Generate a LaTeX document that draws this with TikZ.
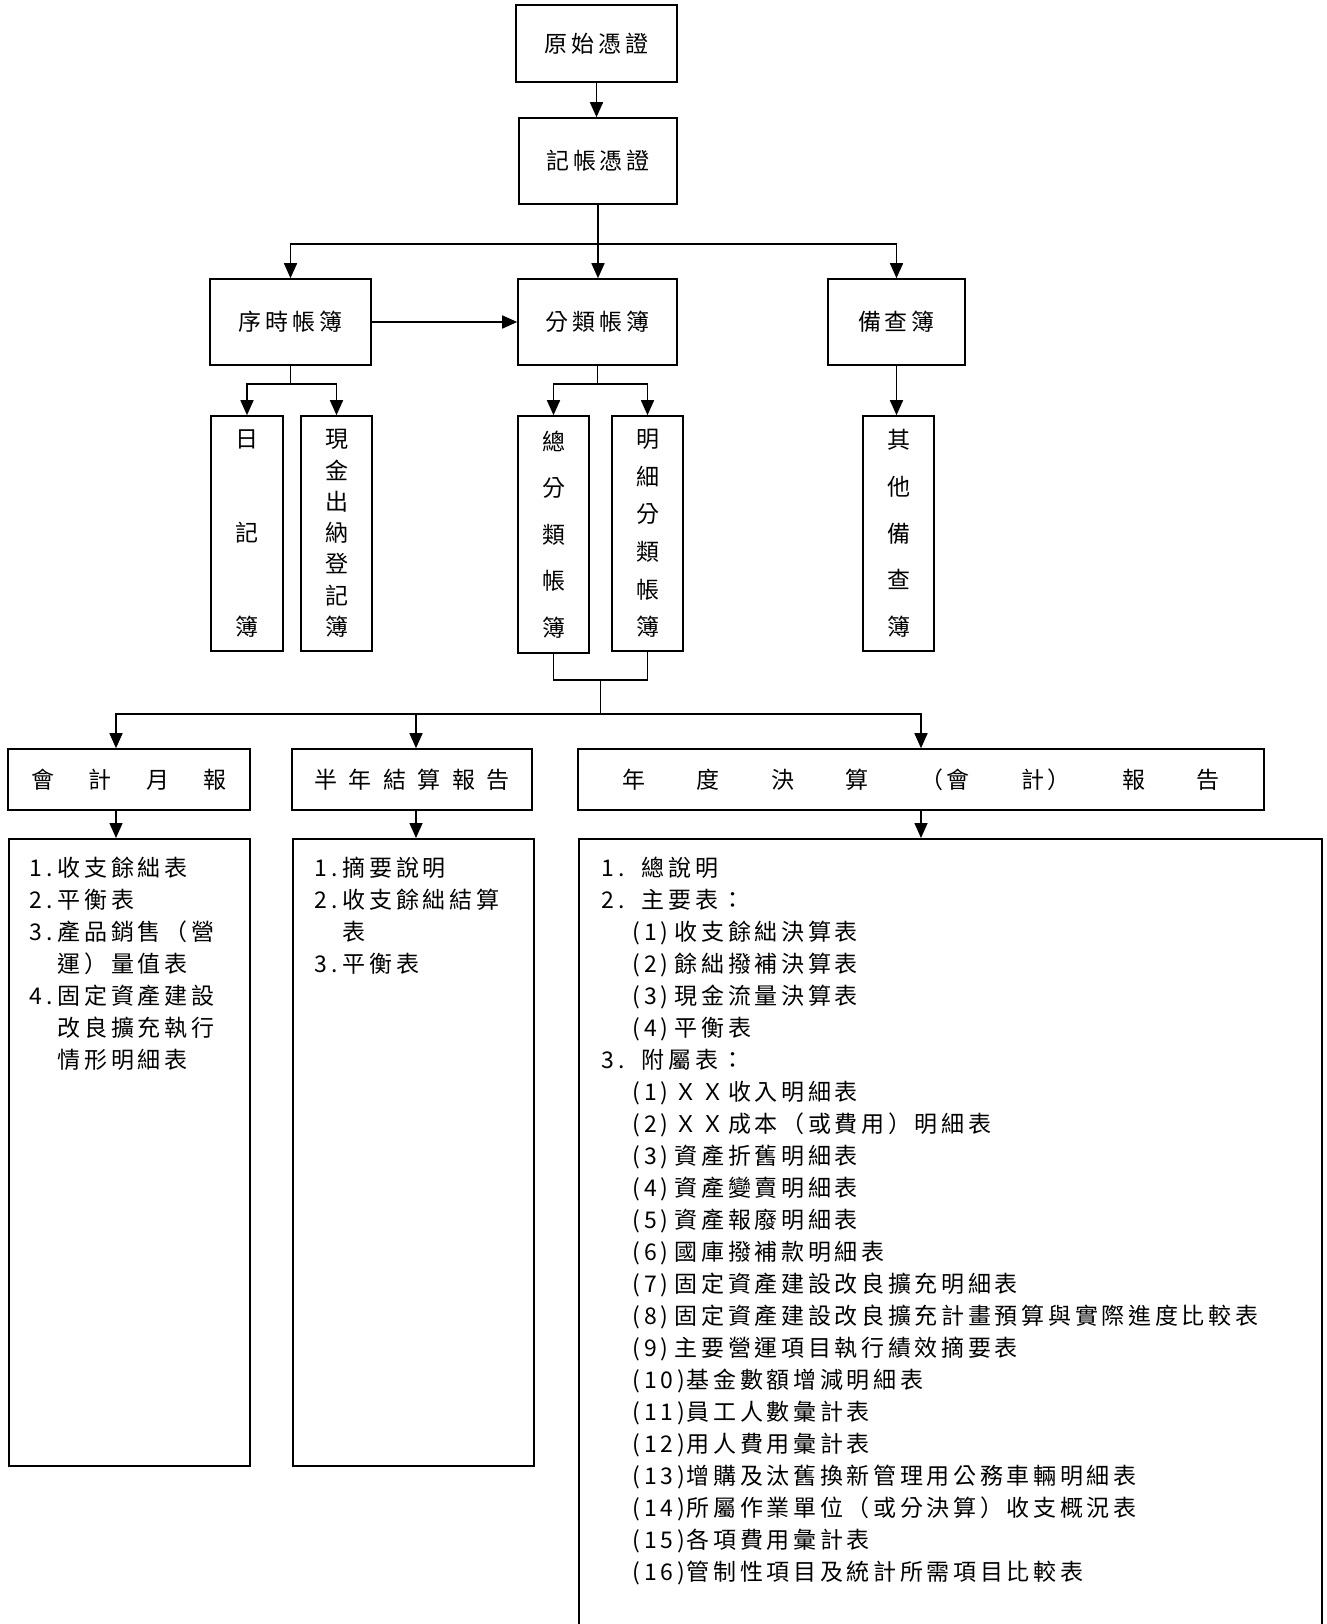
\documentclass[tikz,border=0pt]{standalone}
\usepackage{fontspec}
\setmainfont{Noto Sans CJK TC}[LetterSpace=16]
\usetikzlibrary{arrows.meta,positioning,calc}

\newcommand\vchars[1]{\parbox[c][206pt][s]{1.6em}{\fontsize{23pt}{23pt}\selectfont\centering #1}}
\newcommand\nx{\par\vfill}
\newcommand\lbl[2]{\makebox[#1][l]{#2}}

\begin{document}
\begin{tikzpicture}[
  x=1pt, y=-1pt,
  font=\fontsize{23pt}{32pt}\selectfont,
  >={Triangle[length=15pt,width=13pt]},
  line width=1.6pt,
  flowbox/.style={draw, line width=1.6pt, inner sep=0pt, align=center},
  vertbox/.style={flowbox, minimum width=71pt, minimum height=235pt},
  headbox/.style={flowbox, minimum height=61pt},
  listbox/.style={draw, line width=1.6pt, inner sep=0pt, anchor=north west},
  listtext/.style={inner sep=0pt, align=left, anchor=north west}
]
  \useasboundingbox (0,0) rectangle (1327,1624);

  % vouchers
  \node[flowbox, minimum width=161pt, minimum height=77pt] (yuan) at (596.5,43.5) {原始憑證};
  \node[flowbox, minimum width=158pt, minimum height=86pt] (jizhang) at (598,161) {記帳憑證};

  % books
  \node[flowbox, minimum width=161pt, minimum height=86pt] (xushi) at (290.5,322) {序時帳簿};
  \node[flowbox, minimum width=159pt, minimum height=86pt] (fenlei) at (597.5,322) {分類帳簿};
  \node[flowbox, minimum width=137pt, minimum height=86pt] (beicha) at (896.5,322) {備查簿};

  \node[vertbox, minimum width=72pt] (riji) at (247,533.5) {\vchars{日\nx 記\nx 簿}};
  \node[vertbox] (xianjin) at (336.5,533.5) {\vchars{現\nx 金\nx 出\nx 納\nx 登\nx 記\nx 簿}};
  \node[vertbox, minimum height=237pt] (zong) at (553.5,534.5) {\vchars{總\nx 分\nx 類\nx 帳\nx 簿}};
  \node[vertbox] (mingxi) at (647.5,533.5) {\vchars{明\nx 細\nx 分\nx 類\nx 帳\nx 簿}};
  \node[vertbox] (qita) at (898.5,533.5) {\vchars{其\nx 他\nx 備\nx 查\nx 簿}};

  % reports
  \node[headbox, minimum width=242pt] (yuebao) at (129,779.5) {\makebox[196pt][s]{會\hfill 計\hfill 月\hfill 報}};
  \node[headbox, minimum width=240pt] (bannian) at (412,779.5) {\makebox[196pt][s]{半\hfill 年\hfill 結\hfill 算\hfill 報\hfill 告}};
  \node[headbox, minimum width=686pt] (niandu) at (921,779.5) {\makebox[597pt][s]{年\hfill 度\hfill 決\hfill 算\hfill （會\hfill 計）\hfill 報\hfill 告}};

  \node[listbox, minimum width=241pt, minimum height=627pt] (yblist) at (8,838) {};
  \node[listbox, minimum width=241pt, minimum height=627pt] (bnlist) at (292,838) {};
  \node[listbox, minimum width=743pt, minimum height=810pt] (ndlist) at (578,838) {};

  \node[listtext] (yblisttxt) at ([xshift=21pt,yshift=-18pt]yblist.north west) {%
    \lbl{28pt}{1.}收支餘絀表\\
    \lbl{28pt}{2.}平衡表\\
    \lbl{28pt}{3.}產品銷售（營\\
    \hspace*{28pt}運）量值表\\
    \lbl{28pt}{4.}固定資產建設\\
    \hspace*{28pt}改良擴充執行\\
    \hspace*{28pt}情形明細表};

  \node[listtext] (bnlisttxt) at ([xshift=22pt,yshift=-18pt]bnlist.north west) {%
    \lbl{28pt}{1.}摘要說明\\
    \lbl{28pt}{2.}收支餘絀結算\\
    \hspace*{28pt}表\\
    \lbl{28pt}{3.}平衡表};

  \node[listtext] (ndlisttxt) at ([xshift=23pt,yshift=-18pt]ndlist.north west) {%
    \lbl{40pt}{1.}總說明\\
    \lbl{40pt}{2.}主要表：\\
    \hspace*{31pt}\lbl{42pt}{(1)}收支餘絀決算表\\
    \hspace*{31pt}\lbl{42pt}{(2)}餘絀撥補決算表\\
    \hspace*{31pt}\lbl{42pt}{(3)}現金流量決算表\\
    \hspace*{31pt}\lbl{42pt}{(4)}平衡表\\
    \lbl{40pt}{3.}附屬表：\\
    \hspace*{31pt}\lbl{42pt}{(1)}ＸＸ收入明細表\\
    \hspace*{31pt}\lbl{42pt}{(2)}ＸＸ成本（或費用）明細表\\
    \hspace*{31pt}\lbl{42pt}{(3)}資產折舊明細表\\
    \hspace*{31pt}\lbl{42pt}{(4)}資產變賣明細表\\
    \hspace*{31pt}\lbl{42pt}{(5)}資產報廢明細表\\
    \hspace*{31pt}\lbl{42pt}{(6)}國庫撥補款明細表\\
    \hspace*{31pt}\lbl{42pt}{(7)}固定資產建設改良擴充明細表\\
    \hspace*{31pt}\lbl{42pt}{(8)}固定資產建設改良擴充計畫預算與實際進度比較表\\
    \hspace*{31pt}\lbl{42pt}{(9)}主要營運項目執行績效摘要表\\
    \hspace*{31pt}\lbl{54pt}{(10)}基金數額增減明細表\\
    \hspace*{31pt}\lbl{54pt}{(11)}員工人數彙計表\\
    \hspace*{31pt}\lbl{54pt}{(12)}用人費用彙計表\\
    \hspace*{31pt}\lbl{54pt}{(13)}增購及汰舊換新管理用公務車輛明細表\\
    \hspace*{31pt}\lbl{54pt}{(14)}所屬作業單位（或分決算）收支概況表\\
    \hspace*{31pt}\lbl{54pt}{(15)}各項費用彙計表\\
    \hspace*{31pt}\lbl{54pt}{(16)}管制性項目及統計所需項目比較表};

  % connectors
  \draw[->] (yuan.south) -- (yuan.south |- jizhang.north);
  \coordinate (split1) at ($(jizhang.south)+(0,39)$);
  \draw (jizhang.south) -- (split1);
  \draw[->] (split1) -- (split1 |- fenlei.north);
  \draw[->] (split1) -| (xushi.north);
  \draw[->] (split1) -| (beicha.north);
  \draw[->] (xushi.east) -- (fenlei.west);

  \coordinate (split2) at ($(xushi.south)+(0,18)$);
  \draw (xushi.south) -- (split2);
  \draw[->] (split2) -| (riji.north);
  \draw[->] (split2) -| (xianjin.north);

  \coordinate (split3) at ($(fenlei.south)+(0,18)$);
  \draw (fenlei.south) -- (split3);
  \draw[->] (split3) -| (zong.north);
  \draw[->] (split3) -| (mingxi.north);

  \draw[->] (beicha.south) -- (beicha.south |- qita.north);

  \coordinate (merge) at ($(zong.south)!0.5!(mingxi.south)+(0,27)$);
  \draw (zong.south) |- (merge) -| (mingxi.south);
  \coordinate (split4) at ($(merge)+(0,34)$);
  \draw (merge) -- (split4);
  \draw[->] (split4) -| ([xshift=-13pt]yuebao.north);
  \draw[->] (split4) -| ([xshift=4pt]bannian.north);
  \draw[->] (split4) -| (niandu.north);

  \draw[->] ([xshift=-13pt]yuebao.south) -- ([xshift=-13pt]yuebao.south |- yblist.north);
  \draw[->] ([xshift=4pt]bannian.south) -- ([xshift=4pt]bannian.south |- bnlist.north);
  \draw[->] (niandu.south) -- (niandu.south |- ndlist.north);
\end{tikzpicture}
\end{document}
